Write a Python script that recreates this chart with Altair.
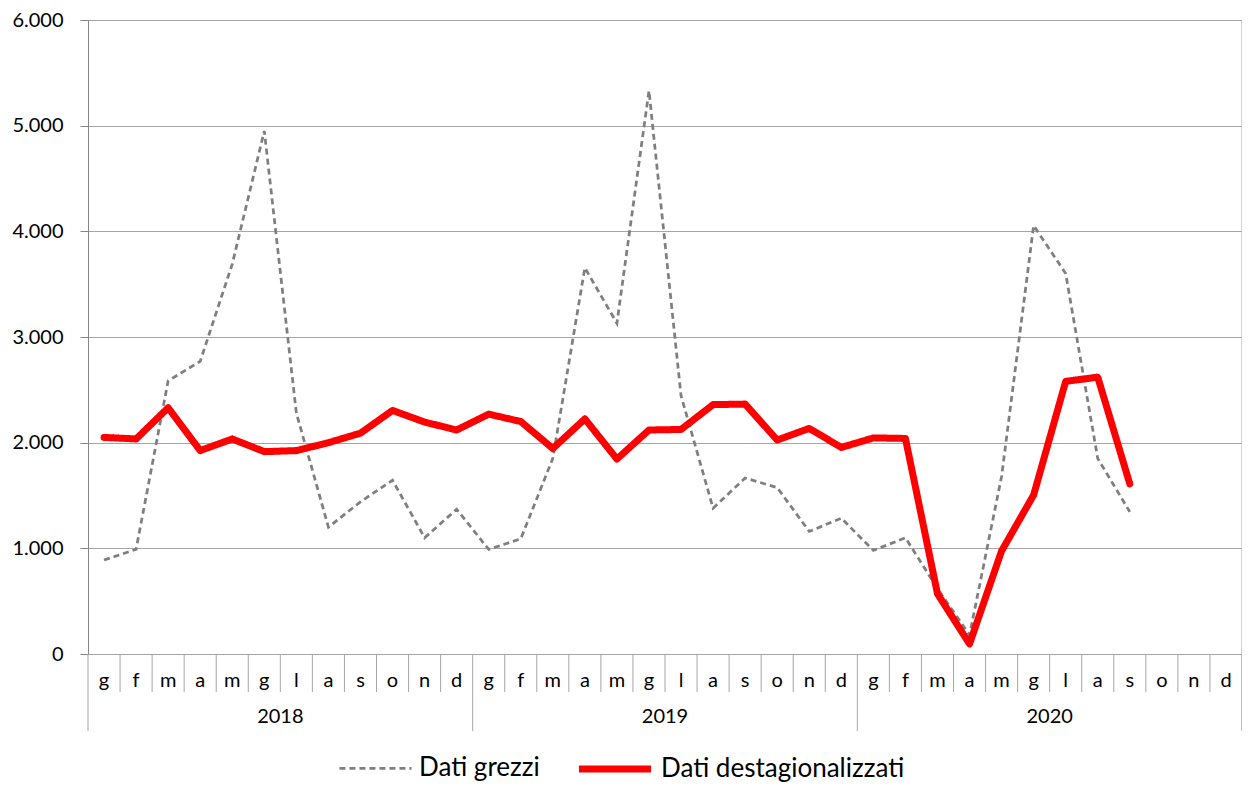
import altair as alt
import pandas as pd

months = ["g", "f", "m", "a", "m", "g", "l", "a", "s", "o", "n", "d"]
years = ["2018", "2019", "2020"]
series_names = ["Dati grezzi", "Dati destagionalizzati"]

grezzi = [890, 990, 2585, 2770, 3690, 4950, 2280, 1200, 1440, 1645, 1100, 1370,
          990, 1090, 1850, 3655, 3130, 5330, 2445, 1380, 1665, 1575, 1160, 1285,
          980, 1100, 620, 180, 1680, 4055, 3600, 1850, 1345]
destag = [2050, 2035, 2330, 1925, 2035, 1915, 1925, 2000, 2090, 2305, 2195, 2120,
          2270, 2200, 1945, 2225, 1845, 2120, 2125, 2360, 2365, 2025, 2135, 1955,
          2045, 2040, 570, 95, 975, 1505, 2580, 2620, 1610]
y_ticks = [0, 1000, 2000, 3000, 4000, 5000, 6000]

n_total = len(months) * len(years)
W, H = 1154, 634
FONT = "Lato"

raw_df = pd.DataFrame({"pos": [i + 0.5 for i in range(len(grezzi))], "v": grezzi,
                       "serie": series_names[0]})
sa_df = pd.DataFrame({"pos": [i + 0.5 for i in range(len(destag))], "v": destag,
                      "serie": series_names[1]})
month_df = pd.DataFrame({"pos": [i + 0.5 for i in range(n_total)],
                         "m": months * len(years)})
year_df = pd.DataFrame({"pos": [len(months) * k + len(months) / 2 for k in range(len(years))],
                        "y": years})
sep_month = pd.DataFrame({"b": [i for i in range(1, n_total) if i % len(months)]})
sep_year = pd.DataFrame({"b": [len(months) * k for k in range(len(years) + 1)]})
right_edge = pd.DataFrame({"b": [n_total]})

xs = alt.Scale(domain=[0, n_total], nice=False, zero=False)
ys = alt.Scale(domain=[0, 6000], nice=False)

leg = alt.Legend(orient="none", legendX=250, legendY=709, direction="horizontal",
                 symbolType="stroke", symbolSize=5200, labelFont=FONT, labelFontSize=26,
                 labelColor="#000000", columnPadding=24, labelOffset=6, labelLimit=500,
                 title=None)

color = alt.Color("serie:N", sort=series_names,
                  scale=alt.Scale(domain=series_names, range=["#7f7f7f", "#ff0000"]),
                  legend=leg)
dash = alt.StrokeDash("serie:N", sort=series_names,
                      scale=alt.Scale(domain=series_names, range=[[6, 4], [1, 0]]),
                      legend=leg)
swidth = alt.StrokeWidth("serie:N", sort=series_names,
                         scale=alt.Scale(domain=series_names, range=[2.75, 7]),
                         legend=leg)

yaxis = alt.Axis(values=y_ticks, labelExpr="replace(format(datum.value, ','), ',', '.')",
                 grid=True, gridColor="#a6a6a6", gridWidth=1, domainColor="#868686",
                 tickColor="#868686", tickSize=8, labelPadding=17, labelFont=FONT,
                 labelFontSize=20, labelColor="#000000", title=None)

raw_line = alt.Chart(raw_df).mark_line(strokeCap="butt").encode(
    x=alt.X("pos:Q", scale=xs, axis=None),
    y=alt.Y("v:Q", scale=ys, axis=yaxis),
    color=color, strokeDash=dash, strokeWidth=swidth,
)
sa_line = alt.Chart(sa_df).mark_line(strokeCap="round", strokeJoin="round").encode(
    x=alt.X("pos:Q", scale=xs, axis=None),
    y=alt.Y("v:Q", scale=ys, axis=yaxis),
    color=color, strokeDash=dash, strokeWidth=swidth,
)

msep = alt.Chart(sep_month).mark_rule(color="#a6a6a6", strokeWidth=1).encode(
    x=alt.X("b:Q", scale=xs, axis=None), y=alt.value(H), y2=alt.value(H + 38))
ysep = alt.Chart(sep_year).mark_rule(color="#a6a6a6", strokeWidth=1).encode(
    x=alt.X("b:Q", scale=xs, axis=None), y=alt.value(H), y2=alt.value(H + 77))
redge = alt.Chart(right_edge).mark_rule(color="#a6a6a6", strokeWidth=1).encode(
    x=alt.X("b:Q", scale=xs, axis=None), y=alt.value(0), y2=alt.value(H + 77))

mtext = alt.Chart(month_df).mark_text(font=FONT, fontSize=20, color="#000000",
                                      baseline="middle").encode(
    x=alt.X("pos:Q", scale=xs, axis=None), y=alt.value(H + 27), text="m:N")
ytext = alt.Chart(year_df).mark_text(font=FONT, fontSize=20, color="#000000",
                                     baseline="middle").encode(
    x=alt.X("pos:Q", scale=xs, axis=None), y=alt.value(H + 63), text="y:N")

chart = alt.layer(msep, ysep, redge, mtext, ytext, raw_line, sa_line).properties(
    width=W, height=H,
    autosize=alt.AutoSizeParams(type="none"),
    padding={"left": 80, "top": 12, "right": 0, "bottom": 128},
).configure_view(stroke=None).configure(background="white")

chart.save("out.html", embed_options={"renderer": "svg", "actions": False})
